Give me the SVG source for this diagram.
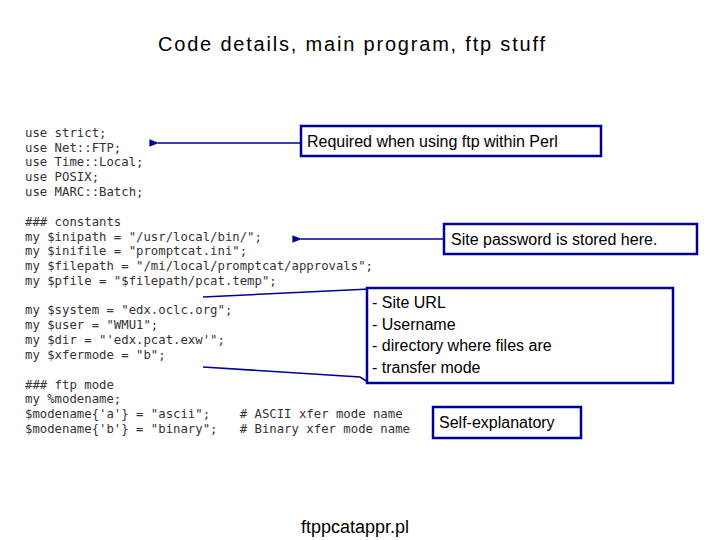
<svg xmlns="http://www.w3.org/2000/svg" width="720" height="540" viewBox="0 0 720 540">
<defs>
<marker id="ah" viewBox="0 0 10 10" refX="1" refY="5" markerWidth="6" markerHeight="6" orient="auto"><path d="M10,1 L0,5 L10,9 z" fill="#000099"/></marker>
<style>
.code{font-family:"DejaVu Sans Mono",monospace;font-size:12.3px;fill:#333;white-space:pre}
.lbl{font-family:"Liberation Sans",Arial,sans-serif;font-size:16px;fill:#000}
.box{fill:#fff;stroke:#000099;stroke-width:2.5}
.con{stroke:#000099;stroke-width:1.6;fill:none}
</style>
</defs>
<rect width="720" height="540" fill="#fff"/>
<text x="158" y="51" class="lbl" style="font-size:20px" textLength="387" lengthAdjust="spacing">Code details, main program, ftp stuff</text>
<g id="code" xml:space="preserve">
<text class="code" x="25" y="137">use strict;</text>
<text class="code" x="25" y="152">use Net::FTP;</text>
<text class="code" x="25" y="166">use Time::Local;</text>
<text class="code" x="25" y="181">use POSIX;</text>
<text class="code" x="25" y="196">use MARC::Batch;</text>
<text class="code" x="25" y="226">### constants</text>
<text class="code" x="25" y="241">my $inipath = "/usr/local/bin/";</text>
<text class="code" x="25" y="255">my $inifile = "promptcat.ini";</text>
<text class="code" x="25" y="270">my $filepath = "/mi/local/promptcat/approvals";</text>
<text class="code" x="25" y="285">my $pfile = "$filepath/pcat.temp";</text>
<text class="code" x="25" y="314">my $system = "edx.oclc.org";</text>
<text class="code" x="25" y="329">my $user = "WMU1";</text>
<text class="code" x="25" y="344">my $dir = "'edx.pcat.exw'";</text>
<text class="code" x="25" y="359">my $xfermode = "b";</text>
<text class="code" x="25" y="389">### ftp mode</text>
<text class="code" x="25" y="403">my %modename;</text>
<text class="code" x="25" y="418">$modename{'a'} = "ascii";    # ASCII xfer mode name</text>
<text class="code" x="25" y="433">$modename{'b'} = "binary";   # Binary xfer mode name</text>
</g>
<g id="connectors">
<line class="con" x1="300" y1="143" x2="158" y2="143" marker-end="url(#ah)"/>
<line class="con" x1="444" y1="239" x2="301" y2="239" marker-end="url(#ah)"/>
<polyline class="con" points="203,297 370,289"/>
<polyline class="con" points="203,367 360,377 368,382"/>
</g>
<g id="n1"><rect class="box" x="301" y="126" width="300" height="30"/><text class="lbl" x="307" y="147">Required when using ftp within Perl</text></g>
<g id="n2"><rect class="box" x="444" y="224" width="253" height="30"/><text class="lbl" x="451" y="245">Site password is stored here.</text></g>
<g id="n3"><rect class="box" x="367" y="288" width="306" height="95"/>
<text class="lbl" x="372" y="308">- Site URL</text>
<text class="lbl" x="372" y="330">- Username</text>
<text class="lbl" x="372" y="351">- directory where files are</text>
<text class="lbl" x="372" y="373">- transfer mode</text></g>
<g id="n4"><rect class="box" x="433" y="407" width="148" height="31"/><text class="lbl" x="439" y="428">Self-explanatory</text></g>
<text class="lbl" x="355" y="533" text-anchor="middle" style="font-size:18px">ftppcatappr.pl</text>
</svg>
